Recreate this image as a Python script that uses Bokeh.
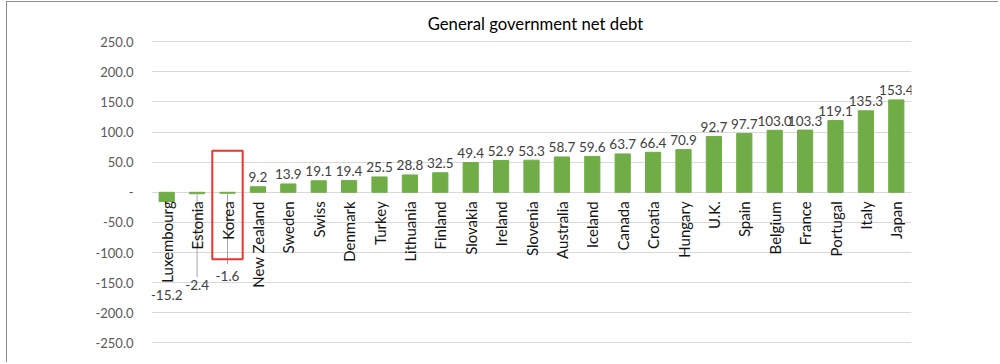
import math
from bokeh.plotting import figure
from bokeh.models import (FactorRange, Range1d, FixedTicker,
                          ColumnDataSource, NumeralTickFormatter)
from bokeh.core.properties import value
from bokeh.embed import file_html
from bokeh.resources import INLINE

# ---- data ----
countries = ["Luxembourg", "Estonia", "Korea", "New Zealand", "Sweden", "Swiss",
             "Denmark", "Turkey", "Lithuania", "Finland", "Slovakia", "Ireland",
             "Slovenia", "Australia", "Iceland", "Canada", "Croatia", "Hungary",
             "U.K.", "Spain", "Belgium", "France", "Portugal", "Italy", "Japan"]
net_debt = [-15.2, -2.4, -1.6, 9.2, 13.9, 19.1, 19.4, 25.5, 28.8, 32.5, 49.4, 52.9,
            53.3, 58.7, 59.6, 63.7, 66.4, 70.9, 92.7, 97.7, 103.0, 103.3, 119.1,
            135.3, 153.4]
y_ticks = [-250, -200, -150, -100, -50, 0, 50, 100, 150, 200, 250]
title_text = "General government net debt"
highlight = "Korea"

# ---- styling / placement constants ----
FONT = "Lato"
BAR_COLOR = "#70AD47"
neg_label_pos = {"Luxembourg": -170.5, "Estonia": -153.9, "Korea": -139.0}
leader_end = {"Estonia": -140.6, "Korea": -119.0}

p = figure(x_range=FactorRange(factors=countries, range_padding=0),
           y_range=Range1d(-284.2, 315.1),
           width=992, height=361, min_border_left=144, min_border_right=88,
           min_border_top=0, min_border_bottom=0, margin=(1, 0, 0, 6),
           x_axis_location=None, output_backend="svg", toolbar_location=None)
p.styles = {"border-left": "1.5px solid #8c8c8c",
            "border-top": "1.5px solid #8c8c8c"}
p.outline_line_color = None
p.background_fill_color = "white"
p.border_fill_color = "white"

# axis
p.yaxis.ticker = FixedTicker(ticks=y_ticks)
p.yaxis.formatter = NumeralTickFormatter(format="0.0")
p.yaxis.major_label_overrides = {0: "-"}
p.yaxis.axis_line_color = None
p.yaxis.major_tick_line_color = None
p.yaxis.minor_tick_line_color = None
p.yaxis.major_tick_out = 0
p.yaxis.major_label_standoff = 18
p.yaxis.major_label_text_font = FONT
p.yaxis.major_label_text_font_size = "13px"
p.yaxis.major_label_text_color = "#595959"
p.ygrid.ticker = FixedTicker(ticks=y_ticks)
p.ygrid.grid_line_color = "#d9d9d9"
p.xgrid.visible = False

src = ColumnDataSource(dict(country=countries, v=net_debt,
                            zero=[0] * len(countries)))
p.vbar(x="country", top="v", width=0.5, source=src, color=BAR_COLOR)

# leader lines
lc = list(leader_end.keys())
p.segment(x0=lc, x1=lc, y0=[net_debt[countries.index(c)] for c in lc],
          y1=[leader_end[c] for c in lc], line_color="#a6a6a6", line_width=1)

# positive data labels
pos = [i for i, v in enumerate(net_debt) if v >= 0]
p.text(x=[countries[i] for i in pos], y=[net_debt[i] for i in pos],
       text=[f"{net_debt[i]:.1f}" for i in pos], text_align="center",
       text_baseline="alphabetic", y_offset=-9.5, text_font=value(FONT),
       text_font_size="13.5px", text_color="#404040")

# negative data labels
neg = [i for i, v in enumerate(net_debt) if v < 0]
p.text(x=[countries[i] for i in neg], y=[neg_label_pos[countries[i]] for i in neg],
       text=[f"{net_debt[i]:.1f}" for i in neg], text_align="center",
       text_baseline="middle", text_font=value(FONT),
       text_font_size="13.5px", text_color="#404040")

# category labels
p.text(x="country", y="zero", text="country", source=src, angle=math.pi / 2,
       text_align="right", text_baseline="middle", y_offset=9,
       text_font=value(FONT), text_font_size="15px", text_color="#141414")

# highlight box
p.rect(x=[highlight], y=[-21], width=1.0, height=180, fill_color=None,
       line_color="#e8352e", line_width=2)

# title
p.text(x=[12.63], y=[279.4], text=[title_text], text_align="center",
       text_baseline="middle", text_font=value(FONT), text_font_size="16.7px",
       text_color="#000000")

open("out.html", "w").write(file_html(p, INLINE))
